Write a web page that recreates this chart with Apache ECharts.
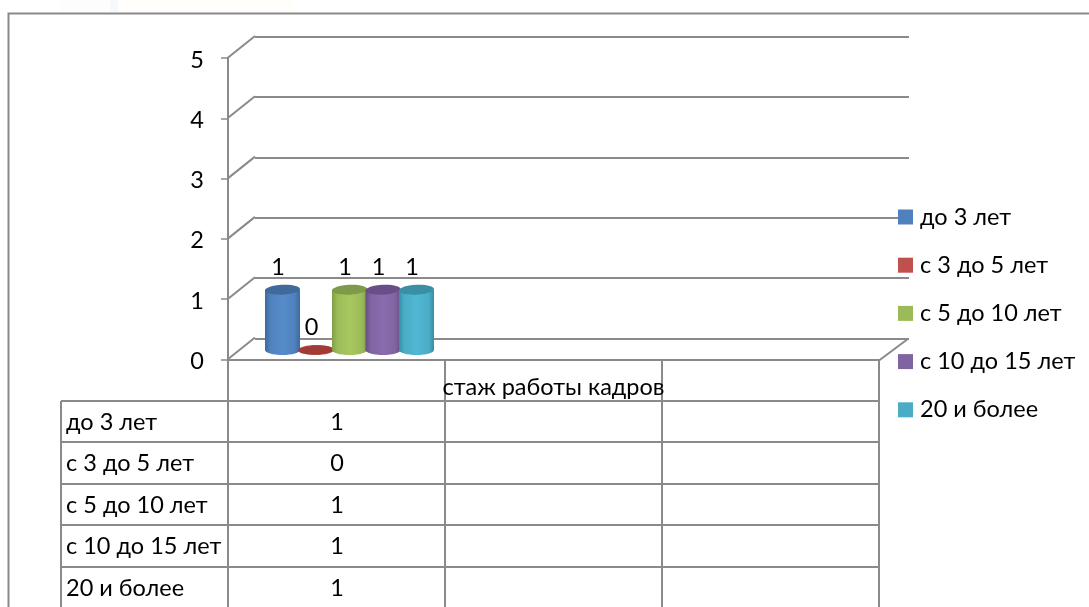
<!DOCTYPE html>
<html><head><meta charset="utf-8">
<style>html,body{margin:0;padding:0;background:#fff}#c{width:1089px;height:607px}</style>
<script src="https://cdn.jsdelivr.net/npm/echarts@6/dist/echarts.min.js"></script>
</head><body><div id="c"></div>
<script>
const categories = ['стаж работы кадров', '', ''];
const seriesNames = ['до 3 лет', 'с 3 до 5 лет', 'с 5 до 10 лет', 'с 10 до 15 лет', '20 и более'];
const values = [1, 0, 1, 1, 1];
const colors = ['#4F81BD', '#C0504D', '#9BBB59', '#8064A2', '#4BACC6'];
const lightColors = ['#568ccb', '#c9534f', '#a6c85f', '#8a6cae', '#50b7d2'];
const darkColors = ['#3d6a9e', '#8e2f2c', '#809f45', '#674f85', '#358fa8'];
const topColors = ['#3f6a9b', '#a23b38', '#7f9a48', '#694f87', '#3a8ea6'];
const yTicks = [0, 1, 2, 3, 4, 5];

const FONT = 'Lato, "Open Sans", sans-serif';
const FS = 23.5;
const LINE = '#8a8a8a';
const chart = echarts.init(document.getElementById('c'), null, {renderer: 'canvas'});

function cylinder(i) {
  return function (params, api) {
    const base = api.coord([0, 0]);
    const top = api.coord([0, api.value(1)]);
    const pitch = api.size([1, 0])[0] * 0.1544;
    const cx = base[0] + 13 + (i - 2) * pitch;
    const by = base[1] - 9.5, ty = top[1] - 9.5;
    const rx = 17.5, ry = 5;
    const grad = {type: 'linear', x: 0, y: 0, x2: 1, y2: 0, colorStops: [
      {offset: 0, color: darkColors[i]}, {offset: 0.15, color: colors[i]},
      {offset: 0.5, color: lightColors[i]}, {offset: 0.85, color: colors[i]},
      {offset: 1, color: darkColors[i]}]};
    return {type: 'group', children: [
      {type: 'ellipse', shape: {cx, cy: by, rx, ry}, style: {fill: grad}},
      {type: 'rect', shape: {x: cx - rx, y: ty, width: rx * 2, height: by - ty}, style: {fill: grad}},
      {type: 'ellipse', shape: {cx, cy: ty, rx, ry: ry - (by === ty ? 0.5 : 0)},
       originX: cx, originY: ty, rotation: 0.05, style: {fill: topColors[i]}},
      {type: 'text', style: {text: String(api.value(1)), x: cx - 4.5, y: ty - 22.5,
        fill: '#000', font: FS + 'px ' + FONT, align: 'center', verticalAlign: 'middle'}}
    ]};
  };
}

const wallSeries = {
  type: 'custom', name: 'стенка', xAxisIndex: 0, yAxisIndex: 0, silent: true, z: 1,
  data: yTicks.map(v => [0, v]),
  renderItem(params, api) {
    const y = api.coord([0, api.value(1)])[1];
    const cs = params.coordSys;
    const kids = [{type: 'line', shape: {x1: cs.x - 0.5, y1: y, x2: cs.x + 27, y2: y - 22},
      style: {stroke: LINE, lineWidth: 2}}];
    if (api.value(1) === 0) kids.push({type: 'line',
      shape: {x1: cs.x + cs.width, y1: y + 1, x2: cs.x + cs.width + 29.5, y2: y - 21},
      style: {stroke: LINE, lineWidth: 2}});
    return {type: 'group', children: kids};
  }
};

const barSeries = seriesNames.map((name, i) => ({
  type: 'custom', name, xAxisIndex: 0, yAxisIndex: 0, silent: true, z: 5,
  itemStyle: {color: colors[i]},
  data: [[0, values[i]]],
  renderItem: cylinder(i)
}));

const g = [];
// faint page background above the frame
g.push({type: 'rect', shape: {x: 60, y: 0, width: 50, height: 12}, style: {fill: '#fdfdfe'}});
g.push({type: 'rect', shape: {x: 110, y: 0, width: 8, height: 12}, style: {fill: '#f6f8fc'}});
g.push({type: 'rect', shape: {x: 118, y: 0, width: 175, height: 12}, style: {fill: '#fffefb'}});
// frame
g.push({type: 'polyline', shape: {points: [[8.5, 607], [8.5, 13.5], [1089, 13.5]]}, style: {stroke: LINE, lineWidth: 2, fill: null}});
// data table
const colX = [61, 228, 445, 662, 879];
const rowY = [401, 442, 484, 525, 567];
const tableBottom = 607;
rowY.forEach(y => g.push({type: 'line', shape: {x1: colX[0], y1: y, x2: colX[4], y2: y}, style: {stroke: LINE, lineWidth: 2}}));
colX.forEach((x, k) => g.push({type: 'line', shape: {x1: x, y1: k === 0 ? rowY[0] : 360, x2: x, y2: tableBottom}, style: {stroke: LINE, lineWidth: 2}}));
seriesNames.forEach((name, i) => {
  const y = rowY[i] + 21;
  g.push({type: 'text', style: {text: name, x: 66, y, fill: '#000', font: FS + 'px ' + FONT, verticalAlign: 'middle'}});
  g.push({type: 'text', style: {text: String(values[i]), x: 337, y, fill: '#000', font: FS + 'px ' + FONT, align: 'center', verticalAlign: 'middle'}});
});

chart.setOption({
  animation: false,
  backgroundColor: '#fff',
  grid: [
    {left: 228, top: 58, width: 651, height: 301.5},
    {left: 255, top: 36.5, width: 654, height: 302}
  ],
  xAxis: [
    {type: 'category', gridIndex: 0, data: categories, name: categories[0], nameLocation: 'middle', nameGap: 28,
     nameTextStyle: {color: '#000', fontFamily: FONT, fontSize: FS, verticalAlign: 'middle'},
     axisLine: {show: true, lineStyle: {color: LINE, width: 2}}, axisTick: {show: false}, axisLabel: {show: false}, splitLine: {show: false}},
    {type: 'category', gridIndex: 1, data: categories, show: false}
  ],
  yAxis: [
    {type: 'value', gridIndex: 0, min: 0, max: 5, interval: 1,
     axisLine: {show: true, lineStyle: {color: LINE, width: 2}},
     axisTick: {show: true, length: 7, lineStyle: {color: LINE, width: 1.5}},
     axisLabel: {margin: 24, formatter: '{a|{value}}',
       rich: {a: {color: '#000', fontFamily: FONT, fontSize: FS, padding: [4, 0, 0, 0]}}},
     splitLine: {show: false}},
    {type: 'value', gridIndex: 1, min: 0, max: 5, interval: 1,
     axisLine: {show: false}, axisTick: {show: false}, axisLabel: {show: false},
     splitLine: {show: true, lineStyle: {color: LINE, width: 2}}}
  ],
  legend: {
    orient: 'vertical', left: 898, top: 202, padding: 0, itemWidth: 15, itemHeight: 15, itemGap: 18.2,
    icon: 'rect', data: seriesNames, selectedMode: false,
    textStyle: {color: '#000', fontFamily: FONT, fontSize: FS, lineHeight: 28, padding: [2, 0, 0, 2]}
  },
  graphic: g,
  series: [wallSeries].concat(barSeries)
});
</script></body></html>
